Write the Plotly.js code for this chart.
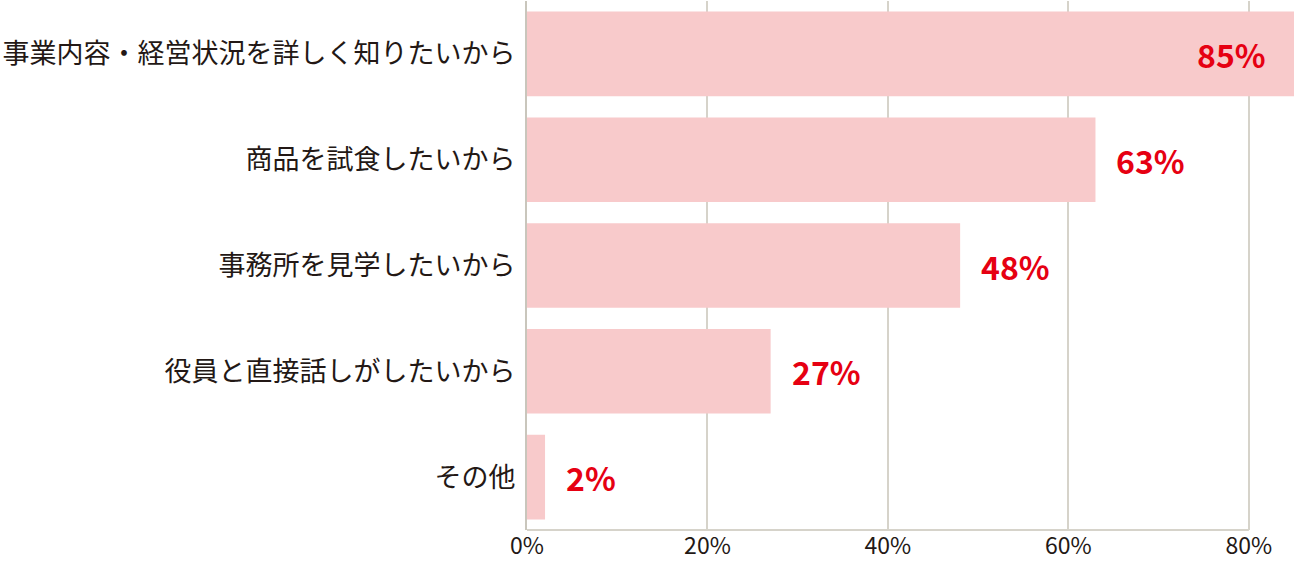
<!DOCTYPE html>
<html><head><meta charset="utf-8">
<script src="https://cdn.plot.ly/plotly-3.0.1.min.js"></script>
<style>html,body{margin:0;padding:0;background:#fff}#chart{width:1294px;height:565px}</style>
</head><body><div id="chart"></div>
<script>
const categories = ["事業内容・経営状況を詳しく知りたいから","商品を試食したいから","事務所を見学したいから","役員と直接話しがしたいから","その他"];
const values = [85, 63, 48, 27, 2];
const tickVals = [0, 20, 40, 60, 80];
const tickText = ["0%", "20%", "40%", "60%", "80%"];

const font = '"Noto Sans CJK JP", "Noto Sans", sans-serif';
const trace = {
  type: 'bar', orientation: 'h',
  x: values, y: categories,
  marker: {color: '#f8cacb'},
  hoverinfo: 'none'
};
const annotations = values.map((v, i) => {
  const inside = v >= 80;
  return {
    x: v, y: categories[i], xref: 'x', yref: 'y',
    text: v + '%', showarrow: false,
    xanchor: inside ? 'right' : 'left',
    xshift: inside ? -26 : 19,
    font: {family: font, size: 32, color: '#e60012', weight: 'bold'}
  };
});
const layout = {
  width: 1294, height: 565,
  margin: {l: 527, r: 0, t: 1, b: 35, pad: 0},
  paper_bgcolor: '#fff', plot_bgcolor: '#fff',
  showlegend: false,
  bargap: 0.2,
  font: {family: font, color: '#231815'},
  xaxis: {
    range: [0, 85], tickvals: tickVals, ticktext: tickText,
    showgrid: true, gridcolor: '#d6d3ca', gridwidth: 2,
    zeroline: false, showline: false,
    ticks: '', ticklabelstandoff: 0,
    tickfont: {family: font, size: 23, color: '#231815'},
    fixedrange: true
  },
  yaxis: {
    type: 'category', categoryorder: 'array', categoryarray: categories,
    range: [4.5, -0.5],
    showgrid: false, zeroline: false,
    showline: true, linecolor: '#c9c6bc', linewidth: 2,
    ticks: 'outside', ticklen: 4, tickcolor: 'rgba(0,0,0,0)',
    tickfont: {family: font, size: 27, color: '#231815'},
    fixedrange: true
  },
  shapes: [{
    type: 'line', xref: 'x', yref: 'paper', x0: 0, x1: tickVals[tickVals.length-1], y0: 0, y1: 0,
    line: {color: '#d6d3ca', width: 2}
  }],
  annotations: annotations
};
Plotly.newPlot('chart', [trace], layout, {displayModeBar: false, staticPlot: true});
</script>
</body></html>
